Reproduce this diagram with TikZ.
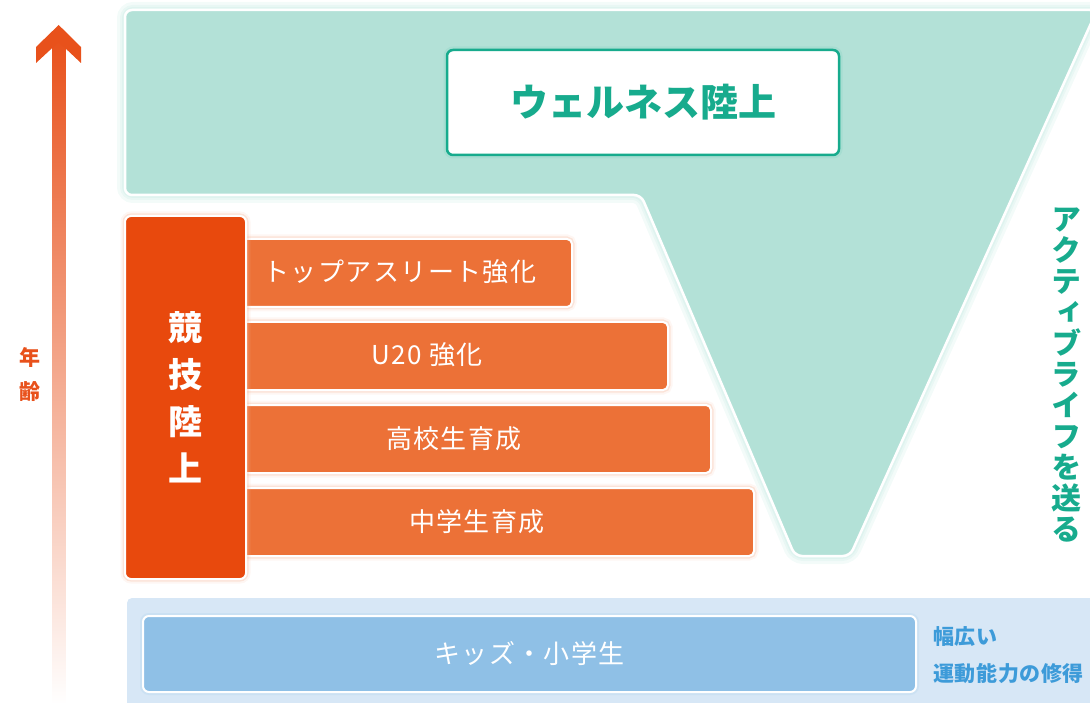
\documentclass[tikz,border=0pt]{standalone}
\usepackage{fontspec}
\setmainfont{Noto Sans CJK JP}
\newfontfamily\jpv[RawFeature=+vert]{Noto Sans CJK JP}
\newfontfamily\jpsp[LetterSpace=5.5]{Noto Sans CJK JP}
\newfontfamily\jpsm[LetterSpace=3]{Noto Sans CJK JP}
\definecolor{greenbg}{HTML}{B3E1D7}
\definecolor{tealc}{HTML}{17AB8D}
\definecolor{orangedark}{HTML}{E8490D}
\definecolor{orangebar}{HTML}{EC7137}
\definecolor{arrowor}{HTML}{E8511B}
\definecolor{blueband}{HTML}{D7E7F6}
\definecolor{bluebox}{HTML}{8FC0E6}
\definecolor{bluetext}{HTML}{3D9BD9}
\tikzset{
  orglow/.style={preaction={draw=orangebar!50, line width=9pt, opacity=.12},
                 preaction={draw=orangebar!60, line width=5pt, opacity=.25}},
  barbox/.style={draw=white, line width=2pt, fill=orangebar, rounded corners=5pt,
                 minimum height=68pt, inner sep=0pt, orglow},
  bartext/.style={text=white, font=\jpsp\fontsize{26}{26}\selectfont},
  bluelabel/.style={anchor=west, text=bluetext, font=\jpsm\bfseries\fontsize{21}{21}\selectfont, inner sep=0pt},
  greenglow/.style={draw=tealc!50, opacity=.10},
}
\begin{document}
\begin{tikzpicture}[x=1pt,y=-1pt]
\useasboundingbox (0,0) rectangle (1090,703);
\clip (0,0) rectangle (1090,703);
% age arrow
\shade[top color=arrowor, bottom color=white] (52,38) rectangle (65.5,705);
\fill[arrowor] (58.7,25) -- (81,47) -- (81,63) -- (58.7,42) -- (36,63) -- (36,47) -- cycle;
\node[text=arrowor, font=\bfseries\fontsize{21}{34}\selectfont, align=center] (age) at (30,374) {年\\齢};
% green wellness funnel
\def\funnel{(125,10) -- (1097,10) -- (850,556) -- (795,556) -- (641,195) -- (125,195) -- cycle}
\draw[greenglow, line width=16pt, rounded corners=8pt] \funnel;
\draw[greenglow, line width=10pt, rounded corners=8pt] \funnel;
\draw[greenglow, line width=6pt, rounded corners=8pt] \funnel;
\path[fill=greenbg, draw=white, line width=2.5pt, rounded corners=7pt] \funnel;
\node[draw=tealc, line width=2.5pt, fill=white, rounded corners=6pt,
      minimum width=392pt, minimum height=105pt,
      preaction={draw=tealc!60, line width=7pt, opacity=.2},
      text=tealc, font=\bfseries\fontsize{38}{38}\selectfont] (wellness) at (643,102.5) {ウェルネス陸上};
\node[text=tealc, font=\jpv\bfseries\fontsize{30}{31}\selectfont, align=center, inner sep=0pt] (active) at (1066,375)
  {ア\\ク\\テ\\ィ\\ブ\\ラ\\イ\\フ\\を\\送\\る};
% competitive bars
\node[barbox, minimum width=376pt] (b1) at (384,273) {};
\node[barbox, minimum width=472pt] (b2) at (432,356) {};
\node[barbox, minimum width=515pt] (b3) at (453.5,439) {};
\node[barbox, minimum width=558pt] (b4) at (475,522) {};
\node[bartext] (t1) at (400,272) {トップアスリート強化};
\node[bartext] (t2) at (427,355) {U20 強化};
\node[bartext] (t3) at (454,439) {高校生育成};
\node[bartext] (t4) at (477,522) {中学生育成};
\node[draw=white, line width=2pt, fill=orangedark, rounded corners=6pt,
      minimum width=121pt, minimum height=363pt, orglow] (comp) at (185.5,397.5) {};
\node[text=white, font=\bfseries\fontsize{34}{47}\selectfont, align=center] (comptext) at (185.5,397) {競\\技\\陸\\上};
% kids band
\fill[blueband, rounded corners=5pt] (127,598) rectangle (1100,720);
\node[draw=white, line width=2pt, fill=bluebox, rounded corners=6pt,
      minimum width=773pt, minimum height=76pt,
      preaction={draw=bluetext!60, line width=6pt, opacity=.15},
      text=white, font=\jpsp\fontsize{26}{26}\selectfont] (kids) at (529.5,654) {キッズ・小学生};
\node[bluelabel] (k1) at (933,637) {幅広い};
\node[bluelabel] (k2) at (933,674) {運動能力の修得};
\end{tikzpicture}
\end{document}
